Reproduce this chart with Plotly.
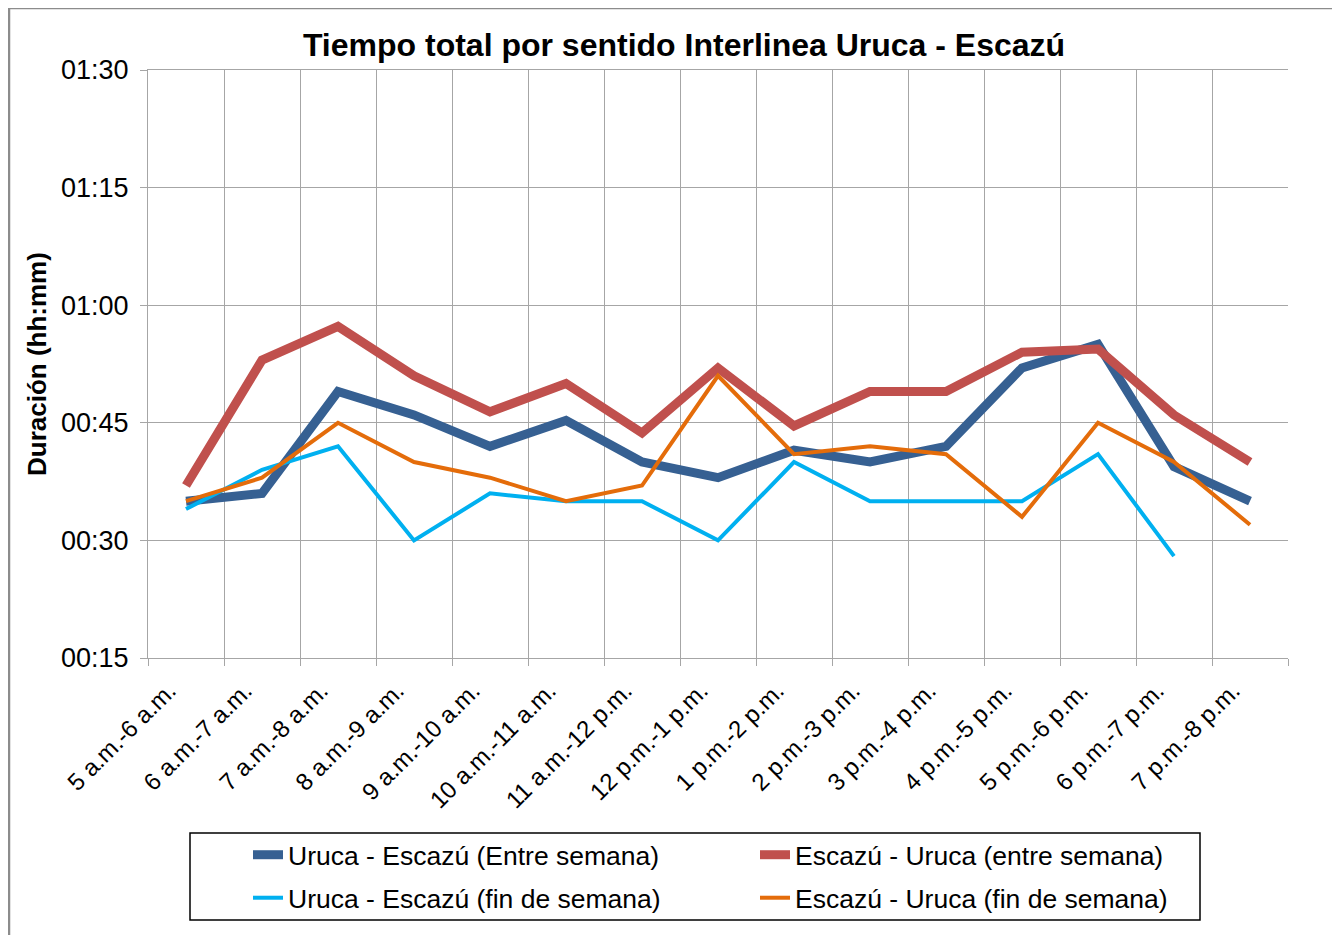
import plotly.graph_objects as go

categories = ["5 a.m.-6 a.m.", "6 a.m.-7 a.m.", "7 a.m.-8 a.m.", "8 a.m.-9 a.m.",
              "9 a.m.-10 a.m.", "10 a.m.-11 a.m.", "11 a.m.-12 p.m.", "12 p.m.-1 p.m.",
              "1 p.m.-2 p.m.", "2 p.m.-3 p.m.", "3 p.m.-4 p.m.", "4 p.m.-5 p.m.",
              "5 p.m.-6 p.m.", "6 p.m.-7 p.m.", "7 p.m.-8 p.m."]

# durations in minutes
uruca_escazu_semana = [35, 36, 49, 46, 42, 45.3, 40, 38, 41.5, 40, 42, 52, 55, 39.4, 35]
escazu_uruca_semana = [37, 53, 57.3, 51, 46.4, 50, 43.7, 52, 44.6, 49, 49, 54, 54.4, 46, 40]
uruca_escazu_finde = [34, 39, 42, 30, 36, 35, 35, 30, 40, 35, 35, 35, 41, 28, None]
escazu_uruca_finde = [35, 38, 45, 40, 38, 35, 37, 51, 41, 42, 41, 33, 45, 40, 32]

y_tickvals = [15, 30, 45, 60, 75, 90]
y_ticktext = ["00:15", "00:30", "00:45", "01:00", "01:15", "01:30"]

series = [
    ("Uruca - Escazú (Entre semana)", uruca_escazu_semana, "#366092", 9, "legend"),
    ("Escazú - Uruca (entre semana)", escazu_uruca_semana, "#C0504D", 9, "legend"),
    ("Uruca - Escazú (fin de semana)", uruca_escazu_finde, "#00B0F0", 4, "legend2"),
    ("Escazú - Uruca (fin de semana)", escazu_uruca_finde, "#E46C0A", 4, "legend2"),
]

fig = go.Figure()
for name, vals, color, w, lg in series:
    fig.add_trace(go.Scatter(x=categories, y=vals, mode="lines", name=name,
                             line=dict(color=color, width=w), connectgaps=False,
                             legend=lg))

FONT = "Liberation Sans, Arial, sans-serif"
W, H = 1332, 927
L, T = 140, 62
R = W - 1280
B = H - 650
pw, ph = W - L - R, H - T - B


def px(x):
    return (x - L) / pw


def py(y):
    return 1 - (y - T) / ph


legend_common = dict(orientation="h", xanchor="left", yanchor="middle",
                     entrywidth=462, entrywidthmode="pixels", borderwidth=0,
                     bgcolor="rgba(0,0,0,0)", font=dict(size=26.5, family=FONT))

fig.update_layout(
    width=W, height=H,
    margin=dict(l=L, r=R, t=T, b=B),
    paper_bgcolor="white", plot_bgcolor="white",
    font=dict(family=FONT, color="black", size=24),
    title=dict(text="<b>Tiempo total por sentido Interlinea Uruca - Escazú</b>",
               x=px(676), xref="paper", xanchor="center",
               y=1 - 37 / H, yanchor="middle", font=dict(size=32, family=FONT)),
    showlegend=True,
    legend=dict(x=px(240), y=py(847), **legend_common),
    legend2=dict(x=px(240), y=py(890), **legend_common),
    xaxis=dict(type="category", tickson="boundaries", showgrid=True, gridcolor="#A6A6A6",
               gridwidth=1, showline=True, linecolor="#A6A6A6", linewidth=1, mirror=True,
               ticks="outside", ticklen=7, tickcolor="#A6A6A6", tickangle=-45,
               ticklabelshift=-17, ticklabelstandoff=8,
               tickfont=dict(size=24, family=FONT), range=[-0.5, 14.5]),
    yaxis=dict(range=[15, 90], tickvals=y_tickvals, ticktext=y_ticktext, showgrid=True,
               gridcolor="#A6A6A6", gridwidth=1, showline=True, linecolor="#A6A6A6",
               linewidth=1, ticks="outside", ticklen=7, tickcolor="#A6A6A6",
               ticklabelstandoff=6,
               tickfont=dict(size=27, family=FONT), zeroline=False),
)

# y axis title
fig.add_annotation(text="<b>Duración (hh:mm)</b>", xref="paper", yref="paper",
                   x=px(29), y=0.5, textangle=-90, showarrow=False,
                   xanchor="center", yanchor="middle", font=dict(size=26, family=FONT))

# legend box
fig.add_shape(type="rect", xref="paper", yref="paper",
              x0=px(182), x1=px(1192), y0=py(912), y1=py(825),
              line=dict(color="black", width=1.5), fillcolor="rgba(0,0,0,0)", layer="below")

# outer chart border (left/top visible, right/bottom beyond the canvas)
fig.add_shape(type="rect", xref="paper", yref="paper",
              x0=px(1), x1=px(W + 30), y0=py(H + 30), y1=py(0),
              line=dict(color="#8C8C8C", width=2.5), fillcolor="rgba(0,0,0,0)", layer="below")

fig.write_html("out.html")
